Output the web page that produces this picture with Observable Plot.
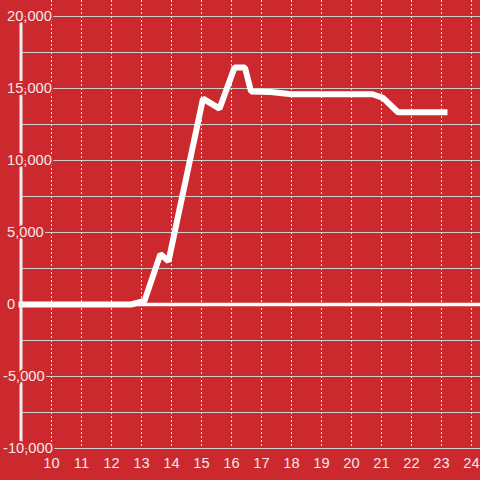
<!DOCTYPE html>
<html>
<head>
<meta charset="utf-8">
<script src="https://cdn.jsdelivr.net/npm/d3@7"></script>
<script src="https://cdn.jsdelivr.net/npm/@observablehq/plot@0.6"></script>
<style>
  html, body { margin: 0; padding: 0; background: #cc292e; }
  #chart { width: 480px; height: 480px; }
  #chart svg text { font-family: "Liberation Sans", Arial, sans-serif; }
</style>
</head>
<body>
<div id="chart"></div>
<script>
// Data
const hours = [8.9, 12.65, 13.1, 13.63, 13.9, 15.05, 15.6, 16.1, 16.45, 16.65, 17.3, 18.0, 20.7, 21.05, 21.55, 23.2];
const values = [0, 0, 250, 3500, 3000, 14300, 13600, 16450, 16450, 14800, 14750, 14600, 14600, 14350, 13350, 13350];

const xTicks = [10, 11, 12, 13, 14, 15, 16, 17, 18, 19, 20, 21, 22, 23, 24];
const yPosTicks = [20000, 15000, 10000, 5000, 0];
const yNegTicks = [-5000, -10000];
const yGridTicks = [20000, 17500, 15000, 12500, 10000, 7500, 5000, 2500, 0, -2500, -5000, -7500, -10000];

const data = hours.map((h, i) => ({hour: h, value: values[i]}));

const RED = "#cc292e";
const TXT = "#f4e6e6";
const FS = 14.7;
const fmt = d => (d < 0 ? "-" : "") + d3.format(",")(Math.abs(d));
const xMin = 8.967;

const chart = Plot.plot({
  width: 480,
  height: 480,
  marginTop: 0,
  marginLeft: 20,
  marginRight: 0,
  marginBottom: 32,
  x: {domain: [xMin, 24.3], axis: null},
  y: {domain: [-10000, 21111.1], axis: null},
  style: {background: RED, fontFamily: "'Liberation Sans', Arial, sans-serif", fontSize: FS + "px", color: TXT, overflow: "hidden"},
  marks: [
    Plot.ruleY(yGridTicks, {stroke: "#cfcfcf", strokeWidth: 1}),
    Plot.ruleX(xTicks, {stroke: "#e2e2e2", strokeWidth: 1, strokeDasharray: "2,2"}),
    Plot.ruleY([0], {stroke: "white", strokeWidth: 3.5}),
    Plot.line(data, {x: "hour", y: "value", stroke: "white", strokeWidth: 6, strokeLinejoin: "miter", strokeLinecap: "butt"}),
    Plot.ruleX([xMin], {y1: -10000, y2: 20000, stroke: "#efefef", strokeWidth: 3, dx: 0.5}),
    Plot.text(yPosTicks, {y: d => d, text: fmt, frameAnchor: "left", dx: -13.5, textAnchor: "start", fill: TXT, stroke: RED, strokeWidth: 4, fontSize: FS}),
    Plot.text(yNegTicks, {y: d => d, text: fmt, frameAnchor: "left", dx: -17.5, textAnchor: "start", fill: TXT, stroke: RED, strokeWidth: 4, fontSize: FS}),
    Plot.axisX(xTicks, {tickSize: 0, tickPadding: 9, tickFormat: d => String(d), fill: TXT, fontSize: FS, label: null})
  ]
});
document.getElementById("chart").append(chart);
</script>
</body>
</html>
